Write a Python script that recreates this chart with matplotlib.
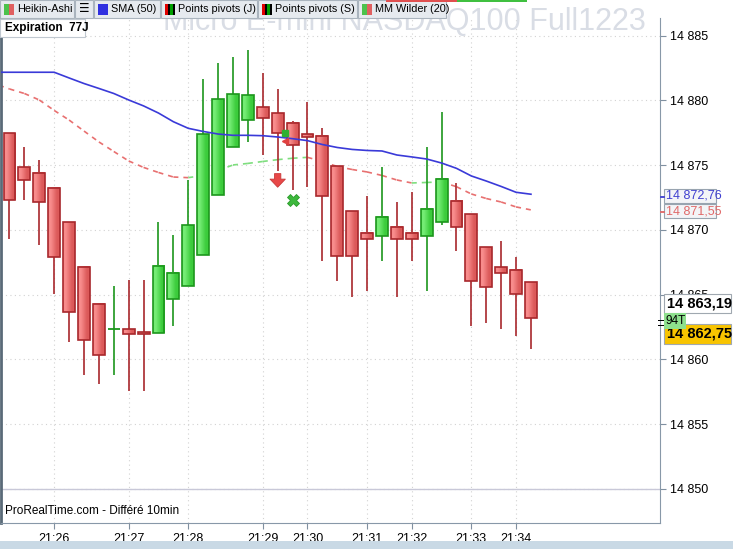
import numpy as np
import matplotlib.pyplot as plt
from matplotlib.patches import Rectangle
from matplotlib.colors import to_rgb

plt.rcParams['font.family'] = ['Liberation Sans', 'DejaVu Sans']

W, H = 733, 549

# Heikin-Ashi candles (94 ticks each)
ha_open = [14877.47, 14874.84, 14874.38, 14873.22, 14870.59, 14867.12, 14864.26, 14862.33, 14862.33,
           14862.10, 14862.02, 14864.65, 14865.65, 14868.05, 14872.68, 14876.39, 14878.47, 14879.47,
           14879.01, 14878.24, 14877.39, 14877.24, 14874.92, 14871.44, 14869.75, 14869.51, 14870.21,
           14869.75, 14869.51, 14870.59, 14872.22, 14871.21, 14868.66, 14867.12, 14866.89, 14865.96]
ha_high = [14877.47, 14876.41, 14875.41, 14873.22, 14870.59, 14867.12, 14864.26, 14865.68, 14866.14,
           14866.14, 14870.62, 14869.61, 14873.86, 14881.66, 14882.90, 14883.36, 14883.90, 14882.12,
           14880.89, 14878.42, 14879.88, 14877.88, 14874.92, 14871.44, 14872.63, 14874.86, 14872.14,
           14872.91, 14876.39, 14879.11, 14873.61, 14871.21, 14868.66, 14869.15, 14867.92, 14865.96]
ha_low = [14869.33, 14872.34, 14868.86, 14865.08, 14861.37, 14858.83, 14858.13, 14858.83, 14857.59,
          14857.59, 14862.02, 14862.61, 14865.65, 14868.05, 14872.68, 14876.39, 14876.82, 14875.81,
          14874.58, 14873.11, 14873.34, 14867.63, 14866.08, 14864.85, 14865.31, 14867.63, 14864.85,
          14867.63, 14865.31, 14870.36, 14868.34, 14862.61, 14862.84, 14862.38, 14861.84, 14860.83]
ha_close = [14872.32, 14873.86, 14872.14, 14867.89, 14863.64, 14861.48, 14860.32, 14862.33, 14861.95,
            14861.95, 14867.20, 14866.66, 14870.36, 14877.39, 14880.09, 14880.48, 14880.40, 14878.63,
            14877.47, 14876.54, 14877.16, 14872.60, 14867.97, 14867.97, 14869.28, 14870.98, 14869.28,
            14869.28, 14871.60, 14873.92, 14870.21, 14866.04, 14865.58, 14866.66, 14865.03, 14863.19]

# indicators, first value belongs to the candle before the first one shown
sma50 = [14882.18, 14882.18, 14882.18, 14882.18, 14882.18, 14881.74, 14881.31, 14880.93, 14880.54,
         14880.04, 14879.58, 14879.03, 14878.36, 14877.85, 14877.61, 14877.41, 14877.31, 14877.31,
         14877.28, 14877.18, 14877.05, 14876.90, 14876.60, 14876.37, 14876.22, 14876.14, 14876.10,
         14875.79, 14875.64, 14875.48, 14875.17, 14874.76, 14874.17, 14873.78, 14873.36, 14872.91, 14872.76]
wilder20 = [14881.30, 14880.89, 14880.54, 14880.04, 14879.23, 14878.49, 14877.64, 14876.80, 14876.06,
            14875.33, 14874.83, 14874.44, 14874.09, 14874.04, 14874.21, 14874.59, 14875.02, 14875.14,
            14875.29, 14875.43, 14875.54, 14875.61, 14875.29, 14874.90, 14874.67, 14874.48, 14874.21,
            14873.86, 14873.63, 14873.67, 14873.71, 14873.34, 14872.78, 14872.43, 14872.16, 14871.78, 14871.55]

time_idx = [3, 8, 12, 17, 20, 24, 27, 31, 34]
time_labels = ['21:26', '21:27', '21:28', '21:29', '21:30', '21:31', '21:32', '21:33', '21:34']
price_ticks = [14850, 14855, 14860, 14865, 14870, 14875, 14880, 14885]

# signals / pivots
sell_arrow = (18, 14874.35, 14873.3)
cross_sig = (19, 14872.32)
pivot_up = (18.5, 14877.5)
pivot_dn = (18.5, 14876.85)

last_price = 14862.75

fig = plt.figure(figsize=(W / 100, H / 100), dpi=100)
ax = fig.add_axes([1 / W, 1 - 523 / H, 659 / W, (523 - 18) / H])
ax.set_facecolor('white')

red_edge, green_edge = '#a8282c', '#1c961c'
red_grad = np.array([[to_rgb('#f88c8c'), to_rgb('#dc5a5a')]])
green_grad = np.array([[to_rgb('#74ec74'), to_rgb('#3ccc3c')]])

for i, (o, h, l, c) in enumerate(zip(ha_open, ha_high, ha_low, ha_close)):
    up = c >= o
    edge = green_edge if up else red_edge
    lo, hi = min(o, c), max(o, c)
    ax.vlines(i, l, lo, color=edge, lw=1.2, zorder=3)
    ax.vlines(i, hi, h, color=edge, lw=1.2, zorder=3)
    if hi - lo < 0.05:
        ax.hlines(lo, i - 0.4, i + 0.4, color=edge, lw=1.3, zorder=4)
    else:
        ax.imshow(green_grad if up else red_grad, extent=(i - 0.4, i + 0.4, lo, hi),
                  aspect='auto', interpolation='bilinear', zorder=4)
        ax.add_patch(Rectangle((i - 0.4, lo), 0.8, hi - lo, fill=False, ec=edge, lw=1.2, zorder=5))

xs = np.arange(-1, len(sma50) - 1)
ax.plot(xs, sma50, color='#3a3ad8', lw=1.2, zorder=6)
for k in range(len(wilder20) - 1):
    col = '#7ede7e' if wilder20[k + 1] > wilder20[k] else '#e87070'
    ax.plot(xs[k:k + 2], wilder20[k:k + 2], color=col, lw=1.2, ls=(0, (3, 3)), zorder=2)

ax.annotate('', xy=(sell_arrow[0], sell_arrow[2]), xytext=(sell_arrow[0], sell_arrow[1]),
            arrowprops=dict(arrowstyle='simple,head_length=0.45,head_width=0.85,tail_width=0.35',
                            fc='#e84848', ec='#c83838', lw=0.6, mutation_scale=13,
                            shrinkA=0, shrinkB=0), zorder=7)
ax.plot(*cross_sig, marker='X', ms=9, color='#3cb83c', mec='#2a9a2a', mew=0.6, zorder=7)
ax.plot(*pivot_up, marker='s', ms=4, color='#30b030', zorder=7)
ax.plot(*pivot_dn, marker='<', ms=5, color='#e04040', zorder=7)

ax.axhline(14850, color='#c8c8d8', lw=1, zorder=1)

ax.set_xlim(-0.57, 43.66)
ax.set_ylim(14847.37, 14886.37)
ax.set_xticks(time_idx)
ax.set_xticklabels(time_labels)
ax.set_yticks(price_ticks)
ax.set_yticklabels([f"{v:,}".replace(",", " ") for v in price_ticks])
ax.yaxis.tick_right()
ax.tick_params(axis='both', length=4, color='#8090a0', labelsize=9, pad=3)
ax.grid(color='#d2d2d2', ls=(0, (1, 3)), lw=0.8)
ax.set_axisbelow(True)
ax.spines['top'].set_visible(False)
ax.spines['right'].set_color('#8898a8')
ax.spines['bottom'].set_color('#8898a8')
ax.spines['left'].set_color('#5a6a78')
ax.spines['left'].set_linewidth(2)

ax.text(0.006, 0.012, 'ProRealTime.com - Différé 10min', transform=ax.transAxes, fontsize=8.5,
        va='bottom', ha='left', zorder=8)


def prect(x0, y0, x1, y1, **kw):
    fig.add_artist(Rectangle((x0 / W, 1 - y1 / H), (x1 - x0) / W, (y1 - y0) / H,
                             transform=fig.transFigure, **kw))


def ptext(x, y, s, **kw):
    fig.text(x / W, 1 - y / H, s, **kw)


# watermark title (sits behind the toolbar buttons)
ptext(404, 22, 'Micro E-mini NASDAQ100 Full1223', fontsize=22, color='#d9dde5',
      ha='center', va='center', zorder=1)

# toolbar
buttons = [(0, 74, ['#4cc24c', '#e06060'], 'Heikin-Ashi'),
           (75, 93, None, '☰'),
           (94, 160, ['#3030e0'], 'SMA (50)'),
           (161, 257, ['#e00000', '#000000', '#00a000', '#000000'], 'Points pivots (J)'),
           (258, 357, ['#e00000', '#000000', '#00a000', '#000000'], 'Points pivots (S)'),
           (358, 446, ['#4cc24c', '#e06060'], 'MM Wilder (20)')]
for x0, x1, icon, label in buttons:
    prect(x0, 0, x1, 18, fc='#e6eaef', ec='#aab4be', lw=0.8, zorder=2)
    if icon is None:
        ptext((x0 + x1) / 2, 9.5, label, fontsize=8.5, ha='center', va='center', zorder=3)
        continue
    n = len(icon)
    for j, col in enumerate(icon):
        prect(x0 + 4 + j * 10 / n, 4, x0 + 4 + (j + 1) * 10 / n, 15, fc=col, ec='none', zorder=3)
    ptext(x0 + 17, 9.5, label, fontsize=7.8, ha='left', va='center', zorder=3)
prect(386, 0, 457, 2, fc='#e05050', ec='none', zorder=3)
prect(457, 0, 527, 2, fc='#40c040', ec='none', zorder=3)

prect(0, 19, 85, 37, fc='white', ec='#c0c8d0', lw=0.8, zorder=3)
ptext(5, 28, 'Expiration  77J', fontsize=8.5, fontweight='bold', ha='left', va='center', zorder=4)

# right side value labels
prect(664, 189, 716, 203, fc='#f3f4f7', ec='#98a4b0', lw=0.8, zorder=3)
ptext(666, 196, f"{sma50[-1]:,.2f}".replace(",", " ").replace(".", ","), fontsize=9,
      color='#4040d0', ha='left', va='center', zorder=4)
prect(664, 204, 716, 218, fc='#f3f4f7', ec='#98a4b0', lw=0.8, zorder=3)
ptext(666, 211, f"{wilder20[-1]:,.2f}".replace(",", " ").replace(".", ","), fontsize=9,
      color='#e06868', ha='left', va='center', zorder=4)
prect(660, 196, 664, 196.5, fc='#4040d0', ec='#4040d0', lw=0.6, zorder=3)
prect(660, 211, 664, 211.5, fc='#e06868', ec='#e06868', lw=0.6, zorder=3)

prect(664, 294, 731, 313, fc='white', ec='#a0a8b0', lw=0.8, zorder=3)
ptext(667, 303.5, f"{ha_close[-1]:,.2f}".replace(",", " ").replace(".", ","), fontsize=10.5,
      fontweight='bold', ha='left', va='center', zorder=4)
prect(664, 324, 731, 344, fc='#f8c400', ec='#a0a8b0', lw=0.8, zorder=3)
ptext(667, 334, f"{last_price:,.2f}".replace(",", " ").replace(".", ","), fontsize=10.5,
      fontweight='bold', ha='left', va='center', zorder=4)
prect(664, 313, 686, 329, fc='#8ee08e', ec='none', zorder=5)
ptext(665, 321, '94T', fontsize=8.5, ha='left', va='center', zorder=6)
prect(658, 319.5, 664, 320.5, fc='black', ec='none', zorder=3)
prect(658, 324.5, 664, 325.5, fc='black', ec='none', zorder=3)

# scrollbar strip
prect(0, 541, 733, 549, fc='#c9d9e5', ec='none', zorder=2)

fig.savefig('out.png', dpi=100)
